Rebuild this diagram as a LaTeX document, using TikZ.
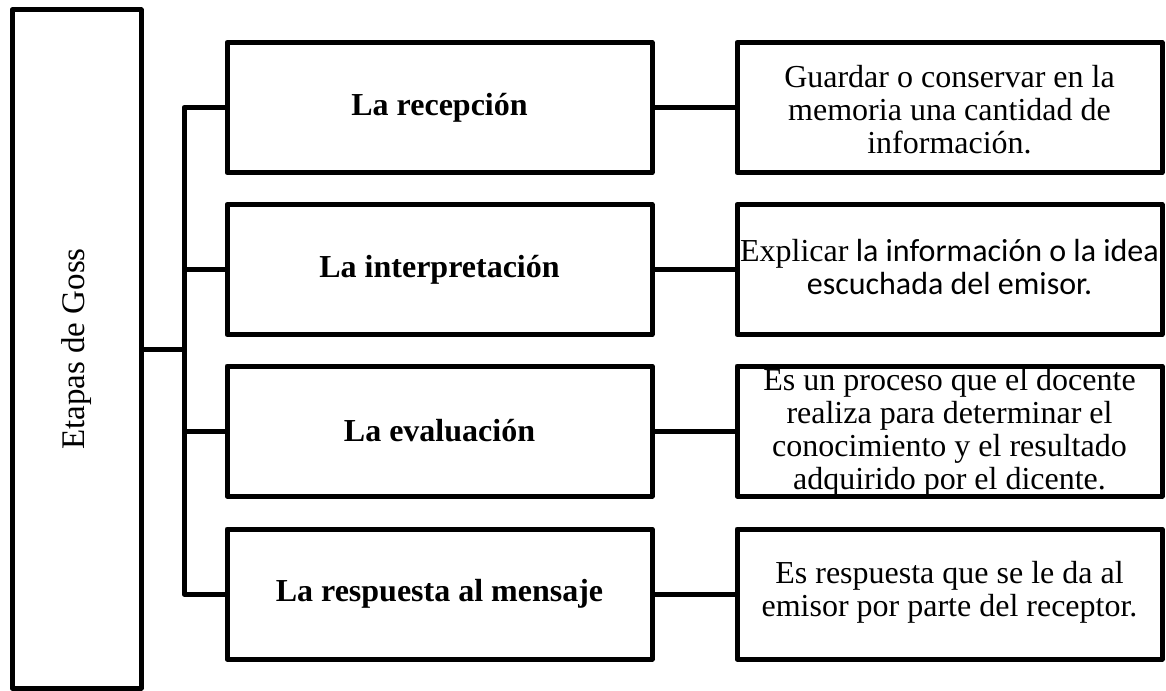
\documentclass[tikz,border=0pt]{standalone}
\usepackage{fontspec}
\setmainfont{Liberation Serif}
\newfontfamily\calfont{Carlito}
\begin{document}
\begin{tikzpicture}[x=1pt,y=-1pt,
  box/.style={draw=black,line width=5pt,line join=round,rectangle,inner sep=0pt,
    minimum width=425pt,minimum height=130pt},
  midbox/.style={box,font=\fontsize{32}{36}\selectfont\bfseries},
  txt/.style={inner sep=0pt,align=center,font=\fontsize{32}{33}\selectfont},
  conn/.style={line width=5pt,line join=round}]
\useasboundingbox (0,0) rectangle (1166,690);
\node[draw=black,line width=5pt,line join=round,rectangle,inner sep=0pt,
  minimum width=129pt,minimum height=678pt] (L) at (76.5,349) {};
\node[rotate=90,font=\fontsize{33}{36}\selectfont] (Lt) at (L.center) {Etapas de Goss};
\node[midbox] (m1) at (439.5,107.5) {La recepción};
\node[midbox] (m2) at (439.5,269.5) {La interpretación};
\node[midbox] (m3) at (439.5,431) {La evaluación};
\node[midbox] (m4) at (439.5,594) {La respuesta al mensaje};
\node[box] (r1) at (949.5,107.5) {};
\node[box] (r2) at (949.5,269.5) {};
\node[box] (r3) at (949.5,431) {};
\node[box] (r4) at (949.5,594) {};
\node[txt] (t1) at ([yshift=-2pt]r1.center) {Guardar o conservar en la\\memoria una cantidad de\\información.};
\node[txt] (t2) at ([yshift=2pt]r2.center) {Explicar{\calfont\ la información o la idea}\\{\calfont escuchada del emisor.}};
\node[txt] (t3) at ([yshift=-1pt]r3.center) {Es un proceso que el docente\\realiza para determinar el\\conocimiento y el resultado\\adquirido por el dicente.};
\node[txt] (t4) at ([yshift=2pt]r4.center) {Es respuesta que se le da al\\emisor por parte del receptor.};
\coordinate (bus) at (184,349);
\draw[conn] (m1.west) -| (bus) |- (m4.west);
\draw[conn] (m2.west) -- (m2.west -| bus);
\draw[conn] (m3.west) -- (m3.west -| bus);
\draw[conn] (L.east) -- (bus);
\draw[conn] (m1.east) -- (r1.west);
\draw[conn] (m2.east) -- (r2.west);
\draw[conn] (m3.east) -- (r3.west);
\draw[conn] (m4.east) -- (r4.west);
\end{tikzpicture}
\end{document}
